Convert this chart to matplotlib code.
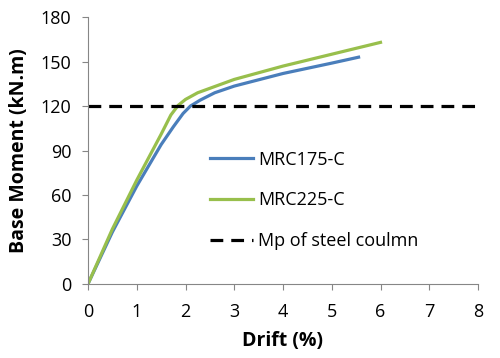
import numpy as np
import matplotlib.pyplot as plt

# drift (%) vs base moment (kN.m)
drift_175 = [0, 0.5, 1.0, 1.5, 1.75, 1.95, 2.1, 2.3, 2.6, 3.0, 4.0, 5.0, 5.55]
moment_175 = [0, 35, 66, 94, 106, 115, 120, 124, 129, 133.5, 142, 149, 153]

drift_225 = [0, 0.5, 1.0, 1.5, 1.7, 1.85, 2.0, 2.25, 2.5, 3.0, 4.0, 5.0, 6.0]
moment_225 = [0, 37, 70, 101, 114, 120.5, 124.5, 129, 132, 138, 147, 155, 163]

mp_steel = 120
x_ticks = [0, 1, 2, 3, 4, 5, 6, 7, 8]
y_ticks = [0, 30, 60, 90, 120, 150, 180]

plt.rcParams['font.family'] = ['Open Sans', 'DejaVu Sans']

fig = plt.figure(figsize=(5, 3.58), dpi=100)
ax = fig.add_axes([0.176, 0.207, 0.78, 0.745])

ax.plot(drift_175, moment_175, color='#4a7ebb', lw=2.3, label='MRC175-C')
ax.plot(drift_225, moment_225, color='#98bf4c', lw=2.3, label='MRC225-C')
ax.axhline(mp_steel, color='black', lw=2.3, dashes=(4, 2.5), label='Mp of steel coulmn')

ax.set_xlim(0, 8)
ax.set_ylim(0, 180)
ax.set_xticks(x_ticks)
ax.set_yticks(y_ticks)
ax.tick_params(labelsize=13, color='#868686', length=4)
ax.tick_params(axis='x', pad=10)
ax.tick_params(axis='y', pad=8)

for s in ['top', 'right']:
    ax.spines[s].set_visible(False)
for s in ['left', 'bottom']:
    ax.spines[s].set_color('#868686')

ax.set_xlabel('Drift (%)', fontsize=14, fontweight='bold', labelpad=7)
ax.set_ylabel('Base Moment (kN.m)', fontsize=14, fontweight='bold', labelpad=8)

ax.legend(loc='upper left', bbox_to_anchor=(0.27, 0.56), frameon=False,
          fontsize=13, labelspacing=1.25, handlelength=2.4, handletextpad=0.3)

fig.savefig('out.png', dpi=100)
